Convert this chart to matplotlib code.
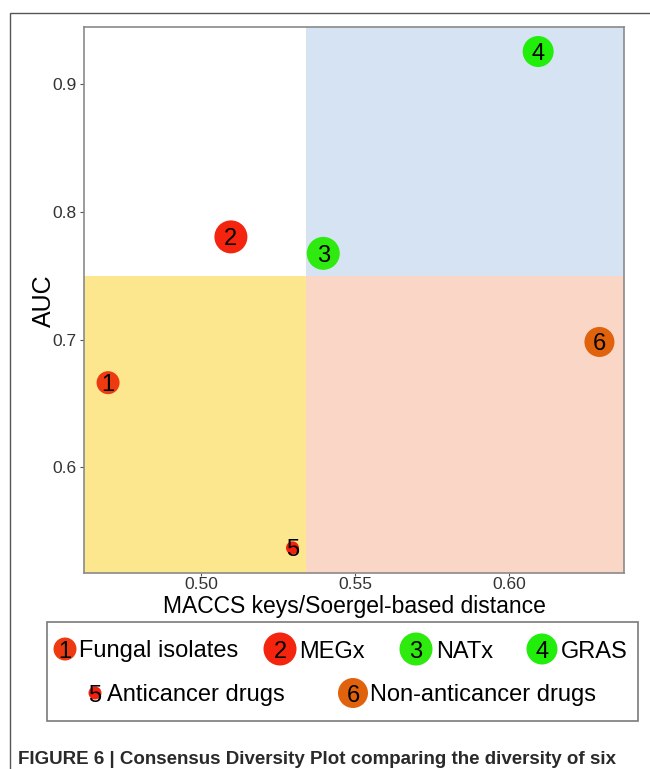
import matplotlib
matplotlib.use("Agg")
import matplotlib.pyplot as plt
from matplotlib.patches import Rectangle
import numpy as np

plt.rcParams['font.family'] = ['Liberation Sans', 'DejaVu Sans']

# ---- data ----
ids = ["1", "2", "3", "4", "5", "6"]
names = ["Fungal isolates", "MEGx", "NATx", "GRAS", "Anticancer drugs", "Non-anticancer drugs"]
distance = [0.4698, 0.5097, 0.5397, 0.6095, 0.5297, 0.6294]
auc = [0.6663, 0.7805, 0.7676, 0.9257, 0.5369, 0.6982]
bubble = [23, 33, 33, 31, 13, 30]   # relative bubble size (diameter)
colors = ["#EE3A10", "#F5240E", "#2FEA0E", "#22EE0C", "#F2200E", "#E0620C"]
x_split = 0.534
y_split = 0.75
x_ticks = [0.50, 0.55, 0.60]
x_tick_labels = ["0.50", "0.55", "0.60"]
y_ticks = [0.6, 0.7, 0.8, 0.9]
y_tick_labels = ["0.6", "0.7", "0.8", "0.9"]

W, H = 650, 769
fig = plt.figure(figsize=(W / 100, H / 100), dpi=100)

def fx(px):
    return px / W

def fy(py):
    return 1 - py / H

# outer frame of the figure panel
fig.add_artist(Rectangle((fx(10), fy(H + 20)), fx(W + 20), fy(12.7) - fy(H + 20),
                         transform=fig.transFigure, fill=False,
                         edgecolor="#555555", lw=1.0))

left, right, top, bottom = 83.5, 624, 26.7, 572.7
ax = fig.add_axes([fx(left), fy(bottom), fx(right - left), fy(top) - fy(bottom)])

xr = max(distance) - min(distance)
yr = max(auc) - min(auc)
xmin, xmax = min(distance) - 0.05 * xr, max(distance) + 0.05 * xr
ymin, ymax = min(auc) - 0.05 * yr, max(auc) + 0.05 * yr
ax.set_xlim(xmin, xmax)
ax.set_ylim(ymin, ymax)

# quadrant backgrounds
ax.add_patch(Rectangle((xmin, ymin), x_split - xmin, y_split - ymin, color="#FCE68E", lw=0, zorder=0))
ax.add_patch(Rectangle((x_split, y_split), xmax - x_split, ymax - y_split, color="#D5E3F2", lw=0, zorder=0))
ax.add_patch(Rectangle((x_split, ymin), xmax - x_split, y_split - ymin, color="#FAD6C6", lw=0, zorder=0))

px2pt = 0.72
sizes = [(d * px2pt) ** 2 for d in bubble]
ax.scatter(distance, auc, s=sizes, c=colors, edgecolors="none", zorder=3)
for x, y, t in zip(distance, auc, ids):
    ax.text(x, y, t, ha="center", va="center_baseline", fontsize=17, color="black", zorder=4)

for sp in ax.spines.values():
    sp.set_color("#8A8A8A")
    sp.set_linewidth(1.2)

ax.set_xticks(x_ticks)
ax.set_xticklabels(x_tick_labels)
ax.set_yticks(y_ticks)
ax.set_yticklabels(y_tick_labels)
ax.tick_params(axis="both", length=3, width=0.8, color="#555555",
               labelsize=12.5, labelcolor="#333333", pad=2)
ax.tick_params(axis="x", length=2.5, pad=0.5)

# overlay axes in pixel coordinates for labels, legend, caption
lax = fig.add_axes([0, 0, 1, 1], facecolor="none")
lax.set_xlim(0, W)
lax.set_ylim(H, 0)
lax.axis("off")

lax.text(354, 607, "MACCS keys/Soergel-based distance", ha="center", va="center", fontsize=16.5)
lax.text(44, 301, "AUC", ha="center", va="center", rotation=90, fontsize=18)

# legend box
fig.add_artist(Rectangle((fx(47), fy(721)), fx(638 - 47), fy(622) - fy(721),
                         transform=fig.transFigure, fill=False,
                         edgecolor="#7A7A7A", lw=1.2))
leg_circle_x = [65, 280, 416, 542, 95, 353]
leg_text_x = [79, 299, 436, 561, 107, 370]
leg_y = [649, 649, 649, 649, 693, 693]
lax.scatter(leg_circle_x, leg_y, s=sizes, c=colors, edgecolors="none", zorder=3)
for cx, tx, y, t, n in zip(leg_circle_x, leg_text_x, leg_y, ids, names):
    lax.text(cx, y, t, ha="center", va="center_baseline", fontsize=17, color="black", zorder=4)
    lax.text(tx, y, n, ha="left", va="center_baseline", fontsize=17, color="black")

# caption
lax.text(18, 763.5, "FIGURE 6 | Consensus Diversity Plot comparing the diversity of six",
         ha="left", va="baseline", fontsize=13.5, fontweight="bold", color="#2A2A2A")

fig.savefig("out.png", dpi=100)
